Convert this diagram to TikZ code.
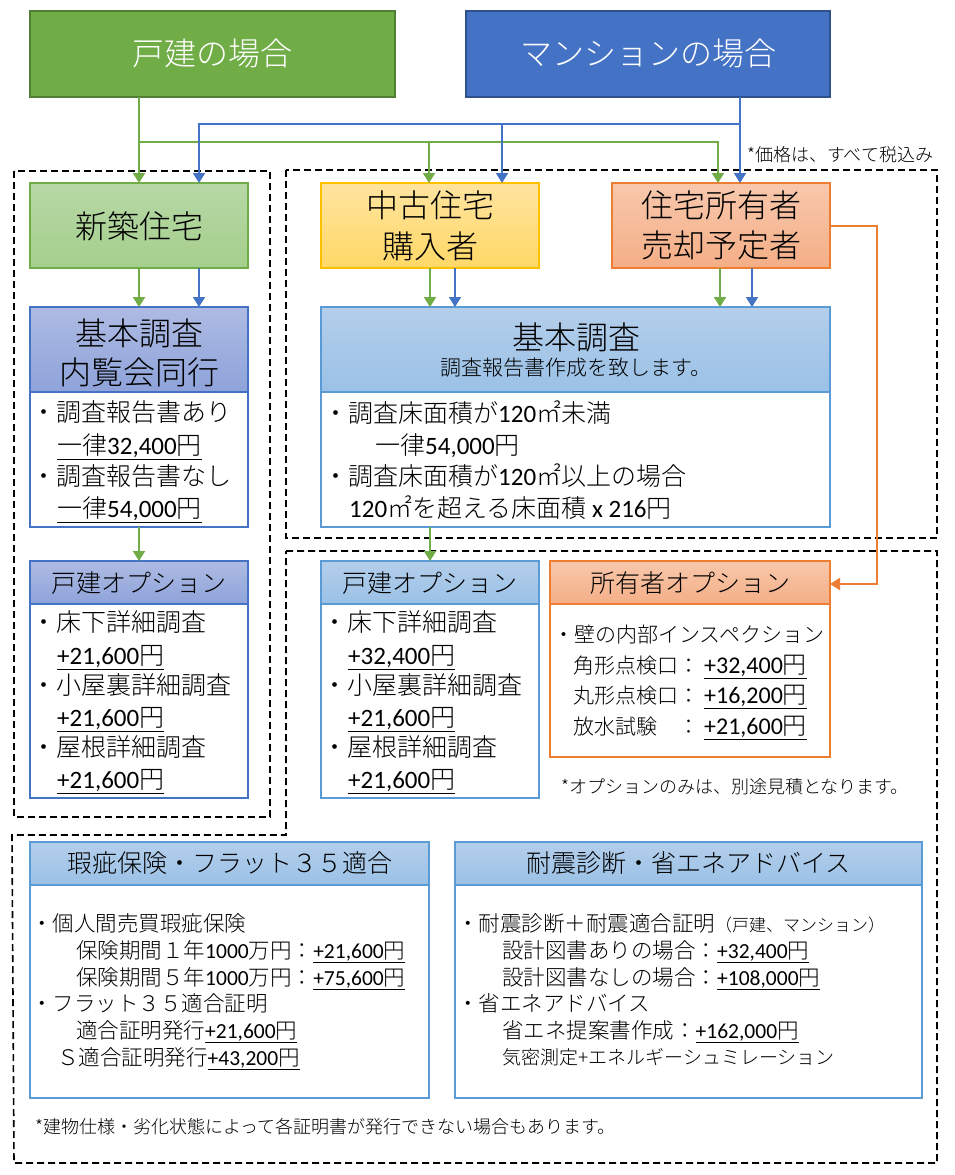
\documentclass[tikz,border=0pt]{standalone}
\usepackage{fontspec}
\setmainfont{Noto Sans CJK JP Light}
\newfontfamily\carl{Carlito}
\usetikzlibrary{arrows.meta,fit}
\newcommand\dg[1]{{\carl #1}}
\newcommand\fs[1]{\fontsize{#1}{#1}\selectfont}
\definecolor{gA}{HTML}{70AD47}
\definecolor{gAd}{HTML}{507E32}
\definecolor{bA}{HTML}{4472C4}
\definecolor{bAd}{HTML}{2F528F}
\definecolor{gLt}{HTML}{B7D8A6}
\definecolor{gLb}{HTML}{A5CF8C}
\definecolor{yT}{HTML}{FFE49F}
\definecolor{yB}{HTML}{FFD866}
\definecolor{yD}{HTML}{FFC000}
\definecolor{oT}{HTML}{F8C8AC}
\definecolor{oB}{HTML}{F4AE86}
\definecolor{oD}{HTML}{ED7D31}
\definecolor{pT}{HTML}{AEBBE3}
\definecolor{pB}{HTML}{8EA3DA}
\definecolor{lT}{HTML}{B4CEEB}
\definecolor{lB}{HTML}{9AC1E6}
\definecolor{lD}{HTML}{5B9BD5}
\tikzset{
  box/.style={inner sep=0pt, outer sep=0pt, line width=1.5pt},
  conn/.style={line width=2pt, -{Triangle[length=10pt,width=12pt]}},
  gcon/.style={conn, draw=gA, color=gA},
  bcon/.style={conn, draw=bA, color=bA},
  ocon/.style={conn, draw=oD, color=oD},
  dsh/.style={draw=black, line width=1.6pt, dash pattern=on 7pt off 4pt},
  tl/.style={inner sep=0pt, anchor=base west, font=\fs{#1}, yshift=-0.38*#1},
  tc/.style={inner sep=0pt, anchor=base, font=\fs{#1}, yshift=-0.38*#1},
}
\begin{document}
\begin{tikzpicture}[x=1pt,y=-1pt]
\useasboundingbox[fill=white] (0,0) rectangle (955,1175);

% dashed groups
\draw[dsh] (14,171) rectangle (270,817);
\draw[dsh] (286,170) rectangle (937,538);
\draw[dsh] (286,551) -- (937,551) -- (937,1163) -- (14,1163) -- (12,835) -- (286,835) -- cycle;

% top boxes
\node[box, fit={(30,11)(395,97)}, fill=gA, draw=gAd] (kodate) {};
\node[box, fit={(466,11)(830,97)}, fill=bA, draw=bAd] (mansion) {};
\node[tc=32, text=white] (t1) at (212,53) {戸建の場合};
\node[tc=32, text=white] (t2) at (648,53) {マンションの場合};

% second row
\node[box, fit={(30,183)(248,268)}, top color=gLt, bottom color=gLb, draw=gA] (shin) {};
\node[box, fit={(321,183)(539,268)}, top color=yT, bottom color=yB, draw=yD] (chuko) {};
\node[box, fit={(612,183)(830,268)}, top color=oT, bottom color=oB, draw=oD] (shoyu) {};
\node[tc=32] (t3) at (139,226) {新築住宅};
\node[tc=32] (t4) at (430,205) {中古住宅};
\node[tc=32] (t5) at (430,246) {購入者};
\node[tc=32] (t6) at (721,205) {住宅所有者};
\node[tc=32] (t7) at (721,245) {売却予定者};

% connectors top
\coordinate (ga) at (139,142);
\coordinate (gb) at (429,142);
\coordinate (gc) at (718,142);
\coordinate (ba) at (199,124);
\coordinate (bb) at (502,124);
\coordinate (bc) at (740,124);
\draw[gcon] (kodate.south -| ga) -- (shin.north -| ga);
\draw[gcon] (ga) -- (gc) -- (shoyu.north -| gc);
\draw[gcon] (gb) -- (chuko.north -| gb);
\draw[bcon] (mansion.south -| bc) -- (shoyu.north -| bc);
\draw[bcon] (bc) -- (ba) -- (shin.north -| ba);
\draw[bcon] (bb) -- (chuko.north -| bb);

\node[tl=18] (n1) at (747,155) {*価格は、すべて税込み};

% basic survey left
\node[box, fit={(30,307)(248,392)}, top color=pT, bottom color=pB, draw=bA] (klh) {};
\node[box, fit={(30,392)(248,527)}, fill=white, draw=bA] (klb) {};
\node[tc=32] (t8) at (139,333) {基本調査};
\node[tc=32] (t9) at (139,372) {内覧会同行};
\node[tl=25] (a1) at (31,412) {・調査報告書あり};
\node[tl=25] (a2) at (57,445) {\underline{一律\dg{32,400}円}};
\node[tl=25] (a3) at (31,476) {・調査報告書なし};
\node[tl=25] (a4) at (57,508) {\underline{一律\dg{54,000}円}};

% basic survey right
\node[box, fit={(321,307)(830,392)}, top color=lT, bottom color=lB, draw=lD] (krh) {};
\node[box, fit={(321,392)(830,527)}, fill=white, draw=lD] (krb) {};
\node[tc=32] (t10) at (576,337) {基本調査};
\node[tc=21] (t11) at (576,368) {調査報告書作成を致します。};
\node[tl=25] (b1) at (323,413) {・調査床面積が\dg{120}㎡未満};
\node[tl=25] (b2) at (375,445) {一律\dg{54,000}円};
\node[tl=25] (b3) at (323,476) {・調査床面積が\dg{120}㎡以上の場合};
\node[tl=25] (b4) at (349,508) {\dg{120}㎡を超える床面積\dg{ x 216}円};

% arrows to basic survey
\coordinate (x1) at (139,0);
\coordinate (x2) at (199,0);
\coordinate (x3) at (430,0);
\coordinate (x4) at (455,0);
\coordinate (x5) at (720,0);
\coordinate (x6) at (752,0);
\draw[gcon] (shin.south -| x1) -- (klh.north -| x1);
\draw[bcon] (shin.south -| x2) -- (klh.north -| x2);
\draw[gcon] (chuko.south -| x3) -- (krh.north -| x3);
\draw[bcon] (chuko.south -| x4) -- (krh.north -| x4);
\draw[gcon] (shoyu.south -| x5) -- (krh.north -| x5);
\draw[bcon] (shoyu.south -| x6) -- (krh.north -| x6);

% option boxes
\node[box, fit={(30,561)(248,604)}, top color=pT, bottom color=pB, draw=bA] (olh) {};
\node[box, fit={(30,604)(248,798)}, fill=white, draw=bA] (olb) {};
\node[tc=25] (t12) at (139,583) {戸建オプション};
\node[tl=25] (c1) at (31,622) {・床下詳細調査};
\node[tl=25] (c2) at (57,655) {\underline{\dg{+21,600}円}};
\node[tl=25] (c3) at (31,685) {・小屋裏詳細調査};
\node[tl=25] (c4) at (57,717) {\underline{\dg{+21,600}円}};
\node[tl=25] (c5) at (31,747) {・屋根詳細調査};
\node[tl=25] (c6) at (57,779) {\underline{\dg{+21,600}円}};

\node[box, fit={(321,561)(539,604)}, top color=lT, bottom color=lB, draw=lD] (orh) {};
\node[box, fit={(321,604)(539,798)}, fill=white, draw=lD] (orb) {};
\node[tc=25] (t13) at (430,583) {戸建オプション};
\node[tl=25] (d1) at (322,622) {・床下詳細調査};
\node[tl=25] (d2) at (348,655) {\underline{\dg{+32,400}円}};
\node[tl=25] (d3) at (322,685) {・小屋裏詳細調査};
\node[tl=25] (d4) at (348,717) {\underline{\dg{+21,600}円}};
\node[tl=25] (d5) at (322,747) {・屋根詳細調査};
\node[tl=25] (d6) at (348,779) {\underline{\dg{+21,600}円}};

\node[box, fit={(550,561)(830,604)}, top color=oT, bottom color=oB, draw=oD] (owh) {};
\node[box, fit={(550,604)(830,757)}, fill=white, draw=oD] (owb) {};
\node[tc=25] (t14) at (690,583) {所有者オプション};
\node[tl=21] (e1) at (553,635) {・壁の内部インスペクション};
\node[tl=21] (e2) at (573,666) {角形点検口：\hspace{5pt}{\fs{24}\underline{\dg{+32,400}円}}};
\node[tl=21] (e3) at (573,696) {丸形点検口：\hspace{5pt}{\fs{24}\underline{\dg{+16,200}円}}};
\node[tl=21] (e4) at (573,727) {放水試験　：\hspace{5pt}{\fs{24}\underline{\dg{+21,600}円}}};
\node[tl=18] (n2) at (561,787) {*オプションのみは、別途見積となります。};

\draw[gcon] (klb.south -| x1) -- (olh.north -| x1);
\draw[gcon] (krb.south -| x3) -- (orh.north -| x3);
\coordinate (o1) at (877,226);
\coordinate (o2) at (877,584);
\draw[ocon] (shoyu.east |- o1) -- (o1) -- (o2) -- (owh.east |- o2);

% bottom boxes
\node[box, fit={(30,842)(429,885)}, top color=lT, bottom color=lB, draw=lD] (kh) {};
\node[box, fit={(30,885)(429,1098)}, fill=white, draw=lD] (kb) {};
\node[tc=25] (t15) at (229.5,863) {瑕疵保険・フラット３５適合};
\node[tl=21.5] (f1) at (31,923) {・個人間売買瑕疵保険};
\node[tl=21.5] (f2) at (76,950) {保険期間１年\dg{1000}万円：\underline{\dg{+21,600}円}};
\node[tl=21.5] (f3) at (76,977) {保険期間５年\dg{1000}万円：\underline{\dg{+75,600}円}};
\node[tl=21.5] (f4) at (31,1003) {・フラット３５適合証明};
\node[tl=21.5] (f5) at (76,1030) {適合証明発行\underline{\dg{+21,600}円}};
\node[tl=21.5] (f6) at (57,1057) {Ｓ適合証明発行\underline{\dg{+43,200}円}};

\node[box, fit={(455,842)(922,885)}, top color=lT, bottom color=lB, draw=lD] (th) {};
\node[box, fit={(455,885)(922,1098)}, fill=white, draw=lD] (tb) {};
\node[tc=25] (t16) at (688.5,863) {耐震診断・省エネアドバイス};
\node[tl=21.5] (g1) at (457,923) {・耐震診断＋耐震適合証明{\fs{17}（戸建、マンション）}};
\node[tl=21.5] (g2) at (502,950) {設計図書ありの場合：\underline{\dg{+32,400}円}};
\node[tl=21.5] (g3) at (502,977) {設計図書なしの場合：\underline{\dg{+108,000}円}};
\node[tl=21.5] (g4) at (457,1003) {・省エネアドバイス};
\node[tl=21.5] (g5) at (502,1030) {省エネ提案書作成：\underline{\dg{+162,000}円}};
\node[tl=19] (g6) at (502,1057) {気密測定+エネルギーシュミレーション};

\node[tl=18] (n3) at (35,1127) {*建物仕様・劣化状態によって各証明書が発行できない場合もあります。};
\end{tikzpicture}
\end{document}
